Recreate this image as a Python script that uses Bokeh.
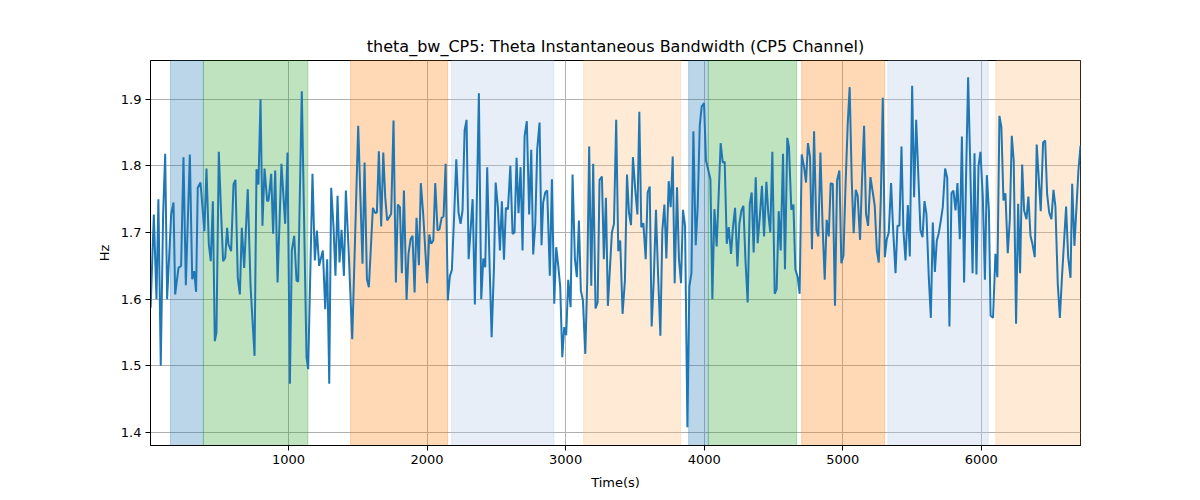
from bokeh.plotting import figure
from bokeh.models import Range1d, FixedTicker, BoxAnnotation
from bokeh.embed import file_html
from bokeh.resources import INLINE

# ---- data ----
time_s = [
    5, 28, 47, 61, 78, 95, 110, 124, 153, 170, 182, 206, 225, 242, 259, 288, 305, 319, 333, 345,
    365, 393, 408, 425, 439, 454, 468, 480, 497, 514, 528, 543, 557, 567, 586, 603, 617, 634, 649, 663,
    680, 706, 726, 755, 769, 783, 798, 812, 827, 846,
    856, 875, 889, 904, 921, 949, 976, 993, 1010, 1024, 1041, 1058, 1070, 1096, 1130, 1142, 1173, 1190,
    1205, 1221, 1236, 1248, 1265, 1279, 1294, 1308, 1325, 1339, 1354, 1368, 1383, 1400, 1414, 1433,
    1460, 1486, 1503, 1534, 1549, 1566, 1580, 1609, 1626, 1638, 1652, 1669, 1684, 1698, 1712, 1727,
    1741, 1758, 1775, 1789, 1804, 1818, 1833, 1852, 1866, 1881, 1895, 1910, 1924, 1941, 1955, 1972,
    2001, 2016, 2030, 2045, 2059, 2076, 2090, 2105, 2119, 2134, 2150, 2165, 2179, 2196, 2211, 2227,
    2242, 2256, 2271, 2285, 2300, 2329, 2345, 2374, 2391, 2406, 2420, 2434, 2449, 2466, 2483, 2495,
    2511, 2526, 2540, 2555, 2569, 2584, 2601,
    2617, 2631, 2646, 2660, 2675, 2689, 2704, 2720, 2737, 2752, 2766, 2781, 2795, 2812, 2826, 2838,
    2853, 2867, 2886, 2901, 2918, 2932, 2947, 2961, 2976, 2990, 3004, 3019, 3036, 3050, 3067, 3081,
    3096, 3110, 3125, 3142, 3156, 3170, 3185, 3199, 3216, 3231, 3245, 3262, 3276, 3291, 3305, 3334,
    3349, 3365, 3380, 3394, 3411, 3428, 3443, 3457,
    3472, 3486, 3503, 3518, 3532, 3546, 3561, 3578, 3592, 3607, 3621, 3636, 3652, 3667, 3684, 3698,
    3713, 3727, 3744, 3758, 3773, 3787, 3804, 3818, 3833, 3847, 3862, 3879, 3893, 3908, 3922, 3939,
    3953, 3968, 3982, 3999, 4013, 4028, 4045, 4059, 4074, 4090, 4105, 4119, 4134, 4148, 4163, 4177,
    4194, 4208, 4223, 4240, 4254, 4269, 4283, 4298, 4314, 4329,
    4343, 4357, 4372, 4386, 4403, 4417, 4432, 4449, 4463, 4477, 4492, 4509, 4523, 4538, 4552, 4569,
    4583, 4600, 4612, 4629, 4644, 4658, 4675, 4689, 4704, 4721, 4735, 4749, 4764, 4778, 4793, 4810,
    4824, 4839, 4855, 4870, 4884, 4899, 4913, 4928, 4944, 4959, 4976, 4990, 5005, 5019, 5036, 5050,
    5065, 5079, 5094, 5108, 5125, 5139, 5154, 5168, 5183, 5200,
    5217, 5231, 5246, 5260, 5275, 5289, 5304, 5318, 5332, 5349, 5364, 5381, 5395, 5409, 5424, 5438,
    5453, 5470, 5484, 5501, 5515, 5530, 5547, 5561, 5576, 5590, 5604, 5621, 5636, 5650, 5665, 5679,
    5693, 5708, 5722, 5739, 5754, 5770, 5785, 5799, 5814, 5828, 5845, 5860, 5876, 5891, 5905, 5920,
    5937, 5951, 5965, 5980, 5994, 6011, 6026, 6040, 6055, 6067,
    6085, 6102, 6116, 6131, 6145, 6160, 6174, 6191, 6206, 6220, 6234, 6251, 6266, 6280, 6295, 6309,
    6326, 6340, 6355, 6369, 6386, 6400, 6429, 6446, 6461, 6475, 6490, 6506, 6521, 6535, 6552, 6567,
    6581, 6612, 6627, 6644, 6656, 6672, 6687, 6701, 6716,
]

bw_hz = [
    1.587, 1.727, 1.600, 1.750, 1.500, 1.727, 1.818, 1.600, 1.727, 1.745, 1.607, 1.647, 1.650, 1.813, 1.621, 1.817, 1.630, 1.642, 1.611, 1.767,
    1.775, 1.702, 1.796, 1.682, 1.657, 1.747, 1.537, 1.550, 1.821, 1.727, 1.657, 1.662, 1.707, 1.682, 1.672, 1.772, 1.779, 1.632, 1.607, 1.707,
    1.647, 1.765, 1.620, 1.515, 1.795, 1.772, 1.900, 1.710, 1.796, 1.747,
    1.748, 1.788, 1.698, 1.793, 1.625, 1.803, 1.713, 1.820, 1.473, 1.673, 1.695, 1.628, 1.626, 1.912, 1.513, 1.495, 1.788, 1.658,
    1.703, 1.650, 1.663, 1.673, 1.585, 1.660, 1.473, 1.767, 1.708, 1.635, 1.755, 1.655, 1.704, 1.635, 1.763, 1.678,
    1.540, 1.733, 1.860, 1.653, 1.805, 1.630, 1.618, 1.737, 1.729, 1.730, 1.822, 1.709, 1.820, 1.753, 1.718, 1.723,
    1.728, 1.868, 1.625, 1.742, 1.738, 1.639, 1.763, 1.599, 1.668, 1.690, 1.695, 1.610, 1.722, 1.651, 1.774, 1.728,
    1.624, 1.697, 1.683, 1.688, 1.774, 1.703, 1.705, 1.722, 1.724, 1.803, 1.598, 1.635, 1.644, 1.728, 1.810, 1.730,
    1.713, 1.733, 1.853, 1.869, 1.660, 1.750, 1.592, 1.909, 1.600, 1.661, 1.648, 1.798, 1.668, 1.543, 1.648, 1.775,
    1.738, 1.673, 1.747, 1.659, 1.737, 1.735, 1.800,
    1.698, 1.700, 1.812, 1.729, 1.798, 1.673, 1.845, 1.867, 1.727, 1.824, 1.667, 1.713, 1.825, 1.865, 1.681, 1.745,
    1.760, 1.763, 1.635, 1.780, 1.593, 1.678, 1.650, 1.618, 1.513, 1.558, 1.546, 1.629, 1.588, 1.787, 1.660, 1.633,
    1.718, 1.613, 1.598, 1.518, 1.628, 1.829, 1.620, 1.803, 1.586, 1.595, 1.779, 1.784, 1.660, 1.752, 1.590, 1.700,
    1.713, 1.869, 1.672, 1.688, 1.578, 1.628, 1.787, 1.730,
    1.711, 1.813, 1.763, 1.727, 1.881, 1.708, 1.714, 1.660, 1.760, 1.769, 1.559, 1.628, 1.734, 1.638, 1.545, 1.703,
    1.742, 1.661, 1.777, 1.738, 1.814, 1.624, 1.768, 1.660, 1.624, 1.734, 1.710, 1.408, 1.619, 1.639, 1.852, 1.681,
    1.738, 1.860, 1.889, 1.894, 1.808, 1.795, 1.780, 1.600, 1.735, 1.679, 1.758, 1.834, 1.805, 1.806, 1.683, 1.708,
    1.668, 1.708, 1.737, 1.649, 1.713, 1.733, 1.740, 1.658, 1.595, 1.743,
    1.760, 1.670, 1.783, 1.684, 1.728, 1.770, 1.694, 1.776, 1.728, 1.700, 1.821, 1.608, 1.615, 1.732, 1.673, 1.818,
    1.645, 1.842, 1.828, 1.734, 1.742, 1.645, 1.633, 1.608, 1.817, 1.798, 1.775, 1.834, 1.813, 1.675, 1.852, 1.703,
    1.694, 1.820, 1.708, 1.629, 1.719, 1.694, 1.774, 1.773, 1.590, 1.778, 1.793, 1.654, 1.665, 1.763, 1.863, 1.918,
    1.778, 1.699, 1.764, 1.755, 1.689, 1.778, 1.860, 1.728, 1.710, 1.783,
    1.760, 1.740, 1.673, 1.655, 1.753, 1.902, 1.663, 1.690, 1.700, 1.774, 1.703, 1.639, 1.710, 1.710, 1.829, 1.703,
    1.658, 1.741, 1.664, 1.920, 1.753, 1.869, 1.778, 1.703, 1.693, 1.747, 1.728, 1.633, 1.572, 1.715, 1.641, 1.688,
    1.699, 1.718, 1.738, 1.796, 1.782, 1.559, 1.759, 1.763, 1.733, 1.774, 1.690, 1.844, 1.625, 1.793, 1.933, 1.803,
    1.639, 1.819, 1.637, 1.800, 1.821, 1.753, 1.629, 1.786, 1.733, 1.575,
    1.572, 1.668, 1.633, 1.875, 1.858, 1.748, 1.759, 1.669, 1.720, 1.845, 1.808, 1.563, 1.743, 1.639, 1.802, 1.733,
    1.720, 1.754, 1.695, 1.683, 1.663, 1.832, 1.732, 1.835, 1.838, 1.758, 1.730, 1.720, 1.764, 1.739, 1.623, 1.572,
    1.628, 1.739, 1.663, 1.632, 1.773, 1.680, 1.738, 1.793, 1.830,
]

span_start = [148, 386, 1448, 2177, 3130, 3888, 4030, 4704, 5325, 6105]
span_end = [386, 1140, 2148, 2916, 3830, 4030, 4668, 5303, 6050, 6716]
span_color = ["#1f77b4", "#2ca02c", "#ff7f0e", "#aec7e8", "#ffbb78",
              "#1f77b4", "#2ca02c", "#ff7f0e", "#aec7e8", "#ffbb78"]

x_ticks = [1000, 2000, 3000, 4000, 5000, 6000]
y_ticks = [1.4, 1.5, 1.6, 1.7, 1.8, 1.9]

title_text = "theta_bw_CP5: Theta Instantaneous Bandwidth (CP5 Channel)"
x_label = "Time(s)"
y_label = "Hz"

# ---- figure ----
FONT = "DejaVu Sans"
p = figure(width=1184, height=492, output_backend="svg", toolbar_location=None,
           x_range=Range1d(4, 6716), y_range=Range1d(1.3805, 1.958),
           min_border_left=150, min_border_right=104, min_border_top=60, min_border_bottom=47,
           title=title_text)

p.title.align = "center"
p.title.text_font = FONT
p.title.text_font_size = "16px"
p.title.text_font_style = "normal"
p.title.text_color = "black"

for s, e, c in zip(span_start, span_end, span_color):
    p.add_layout(BoxAnnotation(left=s, right=e, fill_color=c, fill_alpha=0.3,
                               line_color=c, line_alpha=0.3, line_width=1, level="underlay"))

p.line(time_s, bw_hz, line_width=2, color="#1f77b4")

p.xaxis.ticker = FixedTicker(ticks=x_ticks)
p.yaxis.ticker = FixedTicker(ticks=y_ticks)
p.xaxis.axis_label = x_label
p.yaxis.axis_label = y_label

for ax in (p.xaxis, p.yaxis):
    ax.major_label_text_font = FONT
    ax.major_label_text_font_size = "13px"
    ax.major_label_text_color = "black"
    ax.axis_label_text_font = FONT
    ax.axis_label_text_font_size = "13px"
    ax.axis_label_text_font_style = "normal"
    ax.axis_label_text_color = "black"
    ax.axis_line_color = "black"
    ax.axis_line_width = 1
    ax.major_tick_line_color = "black"
    ax.major_tick_out = 5
    ax.major_tick_in = 0
    ax.minor_tick_line_color = None
    ax.major_label_standoff = 4
    ax.axis_label_standoff = 6
p.xaxis.axis_label_standoff = 8

p.xgrid.grid_line_color = "#b0b0b0"
p.ygrid.grid_line_color = "#b0b0b0"
p.xgrid.grid_line_width = 1
p.ygrid.grid_line_width = 1

p.outline_line_color = "black"
p.outline_line_width = 1
p.outline_line_alpha = 1
p.background_fill_color = "white"
p.border_fill_color = "white"

open("out.html", "w").write(file_html(p, INLINE))
